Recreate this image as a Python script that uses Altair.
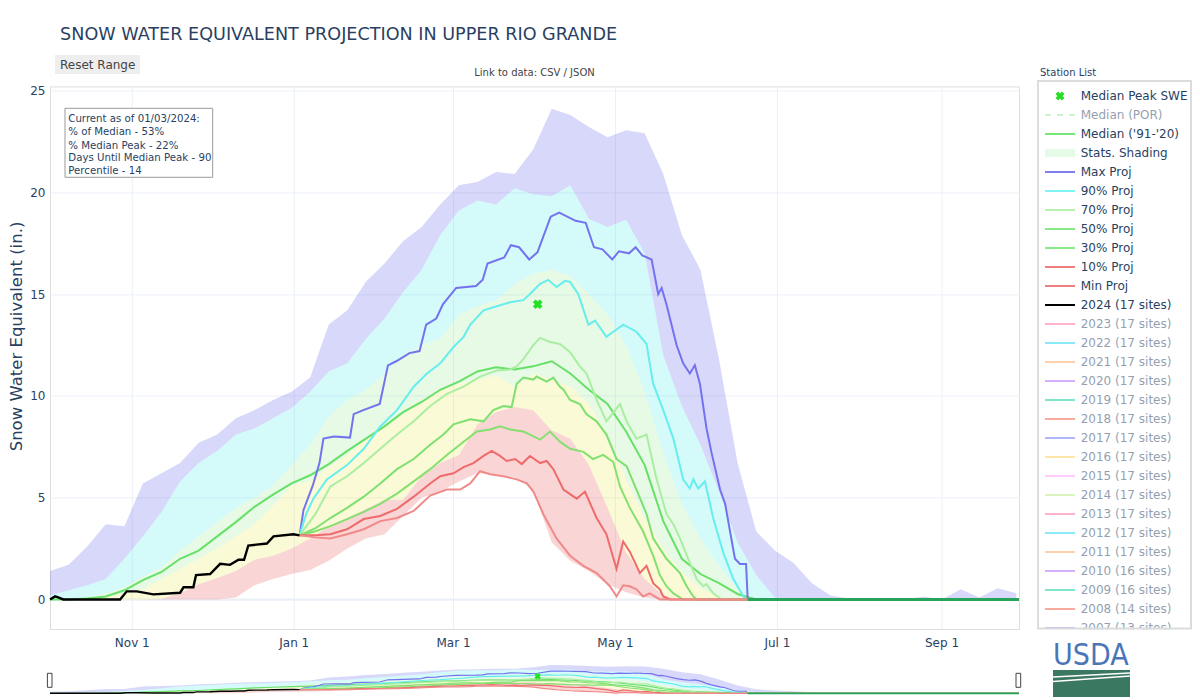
import altair as alt
import pandas as pd

FONT = "DejaVu Sans"
INK = "#2a3f5f"
GRID = "#ebf0f8"

W, H = 969, 542.6
PAD = {"left": 42, "top": 78.4, "right": 173, "bottom": 71}
Y_DOMAIN = [-1.45, 25.2]
MINI_RANGE = [608.6, 577.3]
BASE = pd.Timestamp("2023-10-01")

# ---------------- historical statistics (weekly, day 0 = Oct 1 2023) ----------------
BAND_DAYS = list(range(0, 365, 7))
STAT_MAX = [1.4, 1.7, 2.6, 3.7, 3.6, 5.7, 6.2, 6.7, 7.7, 8.1,
            8.9, 9.3, 9.8, 10.2, 10.9, 13.5, 14.2, 15.6, 16.5, 17.6,
            18.3, 19.4, 20.35, 20.5, 21.0, 20.9, 22.1, 24.1, 23.8, 23.2,
            22.7, 23.05, 22.9, 20.9, 17.9, 16.2, 11.8, 6.7, 3.35, 2.4,
            1.8, 0.8, 0.2, 0.05, 0.0, 0.0, 0.0, 0.15, 0.0, 0.5,
            0.1, 0.55, 0.3]
STAT_P90 = [0.2, 0.45, 0.7, 1.0, 2.0, 3.1, 4.3, 5.8, 6.7, 7.3,
            8.1, 8.4, 8.9, 9.4, 10.2, 11.2, 11.6, 12.8, 13.8, 15.1,
            16.2, 17.9, 19.1, 19.6, 19.4, 20.2, 19.9, 19.8, 20.35, 18.7,
            18.3, 18.65, 17.0, 12.0, 9.5, 7.6, 5.3, 2.8, 1.2, 0.1,
            0, 0, 0, 0, 0, 0, 0, 0, 0, 0,
            0, 0, 0]
STAT_P70 = [0.05, 0.05, 0.1, 0.3, 0.6, 1.1, 1.6, 2.4, 3.1, 3.8,
            4.5, 5.0, 5.6, 6.6, 7.6, 9.0, 9.8, 10.3, 11.1, 12.0,
            12.5, 12.8, 14.0, 14.4, 14.7, 15.5, 16.0, 16.2, 15.9, 15.0,
            14.0, 12.5, 10.2, 7.2, 4.7, 3.0, 1.65, 0.5, 0.0, 0.0,
            0, 0, 0, 0, 0, 0, 0, 0, 0, 0,
            0, 0, 0]
STAT_P30 = [0.0, 0.0, 0.05, 0.13, 0.3, 0.5, 1.0, 1.5, 2.0, 2.5,
            3.1, 3.7, 4.6, 5.6, 5.8, 6.5, 7.1, 7.9, 8.6, 9.1,
            9.7, 10.3, 10.6, 10.8, 11.0, 10.45, 11.1, 10.8, 10.45, 9.6,
            8.1, 5.9, 4.0, 2.5, 1.3, 0.55, 0.13, 0.0, 0.0, 0.0,
            0, 0, 0, 0, 0, 0, 0, 0, 0, 0,
            0, 0, 0]
STAT_P10 = [0, 0, 0, 0, 0, 0, 0.02, 0.3, 0.75, 1.05,
            1.4, 1.95, 2.15, 2.5, 3.0, 3.6, 4.0, 4.45, 4.9, 4.9,
            6.05, 6.7, 7.1, 8.6, 9.2, 9.45, 9.3, 8.3, 7.9, 6.6,
            4.5, 2.3, 1.0, 0.2, 0, 0, 0, 0, 0, 0,
            0, 0, 0, 0, 0, 0, 0, 0, 0, 0,
            0, 0, 0]
STAT_MIN = [0, 0, 0, 0, 0, 0, 0, 0, 0, 0,
            0.1, 0.7, 1.0, 1.25, 1.45, 1.9, 2.5, 3.0, 3.2, 4.1,
            5.0, 5.3, 5.8, 6.2, 6.15, 6.0, 5.4, 2.8, 1.9, 1.4,
            0.75, 0.35, 0.1, 0, 0, 0, 0, 0, 0, 0,
            0, 0, 0, 0, 0, 0, 0, 0, 0, 0,
            0, 0, 0]
MEDIAN_9120 = [0, 0, 0.05, 0.15, 0.45, 0.95, 1.35, 2.0, 2.4, 3.1,
               3.8, 4.55, 5.15, 5.7, 6.1, 6.65, 7.3, 7.9, 8.5, 9.2,
               9.7, 10.3, 10.7, 11.2, 11.4, 11.3, 11.45, 11.7, 11.1, 10.3,
               9.6, 8.25, 6.6, 3.85, 2.0, 1.25, 0.8, 0.27, 0, 0,
               0, 0, 0, 0, 0, 0, 0, 0, 0, 0,
               0, 0, 0]

# ---------------- projections from 01/03/2024 ----------------
PROJ_MAX_DAYS = [94, 95.5, 99, 101.5, 103, 107, 113, 114.4, 118, 124.2,
                 127.3, 130.4, 135.4, 139.2, 141.7, 145.5, 148, 153, 160.5, 163,
                 164.8, 171.1, 173.6, 176.7, 180.5, 183.6, 188.6, 191.8, 198, 201.8,
                 204.9, 208.1, 211.8, 214.3, 218.1, 220.6, 223.1, 226.6, 229.1, 230.4,
                 232.2, 236, 238.5, 241, 242.9, 244.8, 247.3, 249.2, 252.4, 254.3,
                 258, 259.9, 262.2, 262.8, 365]
PROJ_MAX = [3.15, 4.4, 5.6, 6.7, 7.9, 8.0, 7.95, 9.1, 9.3, 9.6,
            11.5, 11.7, 12.1, 12.2, 13.5, 13.8, 14.5, 15.3, 15.4, 15.7,
            16.5, 16.8, 17.4, 17.3, 16.7, 17.05, 18.8, 19.0, 18.6, 18.5,
            17.3, 17.2, 16.7, 17.1, 17.0, 17.3, 16.9, 16.7, 15.0, 15.3,
            14.5, 12.5, 11.6, 11.1, 11.5, 10.6, 8.4, 7.2, 5.4, 4.7,
            2.0, 1.74, 1.74, 0.0, 0.0]
PROJ_90_DAYS = [94, 96.5, 99.2, 104.3, 111.9, 118.2, 124.4, 130.7, 137, 142,
                147, 152, 155.8, 158.3, 163.3, 168.3, 173.3, 178.3, 180.8, 184.6,
                187.7, 190.8, 194, 195.9, 199, 202.8, 205.3, 209.6, 212.2, 215.9,
                220.9, 224.7, 227.2, 231, 234.8, 238.5, 241, 242.3, 244.2, 246.7,
                249.8, 253.6, 257.4, 261.2, 262.2, 365]
PROJ_90 = [3.15, 4.2, 4.95, 5.9, 6.6, 7.4, 8.5, 9.3, 10.45, 11.1,
           11.6, 12.4, 12.9, 13.5, 14.2, 14.4, 14.6, 14.7, 15.0, 15.5,
           15.7, 15.35, 15.65, 15.6, 15.0, 13.5, 13.7, 12.9, 13.15, 13.5,
           13.15, 12.55, 10.6, 9.3, 7.9, 5.9, 5.45, 5.9, 5.45, 5.8,
           4.0, 2.3, 1.0, 0.15, 0.0, 0.0]
PROJ_70_DAYS = [94, 100, 105.6, 111.9, 118.2, 124.4, 130.7, 137, 143.2, 149.5,
                155.8, 162, 168.3, 173.3, 175.8, 178.3, 182.1, 184.6, 188.3, 192.1,
                195.9, 199.6, 202.1, 205.9, 209.6, 214.7, 217.2, 220.9, 224.7, 228.5,
                232.2, 234.8, 237.3, 241, 243.6, 246.1, 247.3, 249.8, 252.4, 253.6, 365]
PROJ_70 = [3.15, 4.2, 5.55, 6.05, 6.7, 7.4, 8.1, 8.75, 9.5, 10.1,
           10.45, 10.95, 11.25, 11.3, 11.45, 11.8, 12.5, 12.85, 12.65, 12.55,
           12.15, 11.45, 11.1, 9.8, 8.75, 9.6, 8.75, 7.9, 8.1, 5.9,
           4.2, 3.7, 3.0, 1.8, 1.0, 0.65, 0.75, 0.3, 0.05, 0.0, 0.0]
PROJ_50_DAYS = [94, 100, 105.6, 111.9, 118.2, 124.4, 130.7, 137, 143.2, 148.2,
                152, 158.3, 163.3, 167, 170.8, 173.9, 175.8, 178.3, 182.1, 183.3,
                187.1, 189.6, 192.1, 193.4, 195.9, 199.6, 202.1, 205.9, 209.6, 213.4,
                217.2, 220.9, 224.7, 227.2, 232.2, 237.3, 239.8, 242.3, 243.6, 365]
PROJ_50 = [3.15, 3.5, 4.0, 4.5, 5.05, 5.7, 6.4, 6.9, 7.6, 8.1,
           8.6, 8.85, 8.75, 9.3, 9.5, 9.45, 10.6, 10.9, 10.8, 10.95,
           10.7, 10.9, 10.45, 10.3, 9.8, 9.6, 9.1, 8.75, 8.1, 6.9,
           6.55, 5.4, 4.2, 3.0, 2.0, 1.3, 0.65, 0.15, 0.0, 0.0]
PROJ_30_DAYS = [94, 100, 105.6, 111.9, 118.2, 124.4, 130.7, 137, 143.2, 149.5,
                155.8, 160.8, 165.8, 169.5, 173.3, 178.3, 180.8, 184.6, 188.3, 192.1,
                195.9, 200.9, 204.6, 208.4, 212.2, 214.7, 218.4, 223.4, 227.2, 229.7,
                232.2, 234.8, 238.5, 365]
PROJ_30 = [3.15, 3.35, 3.6, 3.95, 4.3, 4.7, 5.2, 5.8, 6.4, 7.1,
           7.75, 8.25, 8.35, 8.5, 8.35, 8.25, 8.1, 7.85, 8.25, 7.75,
           7.4, 7.25, 6.9, 7.1, 6.75, 5.55, 4.5, 3.35, 2.15, 1.2,
           0.65, 0.3, 0.0, 0.0]
PROJ_10_DAYS = [94, 100, 105.6, 111.9, 118.2, 124.4, 130.7, 137, 143.2, 147,
                152, 155.8, 159.5, 163.3, 166.4, 169.5, 172, 175.2, 177.7, 180.8,
                184.6, 187.1, 189.6, 193.4, 198.4, 201.5, 205.9, 209.6, 213.4, 215.9,
                218.4, 222.2, 224.7, 227.2, 229.7, 231, 233.5, 365]
PROJ_10 = [3.15, 3.15, 3.2, 3.45, 3.95, 4.1, 4.45, 5.05, 5.7, 6.05,
           6.2, 6.5, 6.7, 7.05, 7.3, 7.05, 6.8, 6.9, 6.65, 7.05,
           6.7, 6.8, 6.4, 5.4, 4.95, 5.3, 4.0, 3.2, 1.5, 2.85,
           2.35, 1.3, 1.65, 0.8, 0.5, 0.15, 0.0, 0.0]
PROJ_MIN_DAYS = [94, 100, 105.6, 111.9, 118.2, 124.4, 130.7, 137, 143.2, 149.5,
                 154.5, 158.3, 162, 165.8, 170.8, 175.8, 179.6, 182.1, 185.8, 190.8,
                 195.9, 200.9, 205.9, 210.9, 213.4, 215.9, 218.4, 220.9, 223.4, 225.9,
                 229.7, 365]
PROJ_MIN = [3.15, 3.05, 3.0, 3.2, 3.45, 3.85, 4.0, 4.35, 5.1, 5.4,
            5.4, 5.7, 6.3, 6.15, 6.05, 5.9, 5.7, 5.3, 4.2, 3.0,
            2.15, 1.65, 1.3, 0.65, 0.15, 0.7, 0.65, 0.5, 0.15, 0.3,
            0.0, 0.0]
ZERO_TAIL_DAYS = [262.8, 365]
ZERO_TAIL = [0.0, 0.0]

# ---------------- current water year ----------------
WY2024_DAYS = [0, 1.9, 3.1, 5, 26.4, 28.9, 32.7, 38.9, 49, 50.3,
               54, 55, 60.3, 64.1, 67.8, 71, 73.1, 74.7, 81.7, 84.2,
               91.7, 94]
WY2024 = [0, 0.15, 0.1, 0, 0, 0.4, 0.4, 0.25, 0.33, 0.6,
          0.6, 1.2, 1.25, 1.75, 1.7, 1.95, 1.95, 2.65, 2.75, 3.1,
          3.2, 3.15]
PEAK_DAY = [183.7]
PEAK_SWE = [14.5]

X_TICK_DATES = ["2023-11-01", "2024-01-01", "2024-03-01", "2024-05-01", "2024-07-01", "2024-09-01"]
X_TICK_LABELS = ["Nov 1", "Jan 1", "Mar 1", "May 1", "Jul 1", "Sep 1"]

INFO_LINES = ["Current as of 01/03/2024:", "% of Median - 53%", "% Median Peak - 22%",
              "Days Until Median Peak - 90", "Percentile - 14"]

LEGEND_LABELS = ["Median Peak SWE", "Median (POR)", "Median ('91-'20)", "Stats. Shading",
                 "Max Proj", "90% Proj", "70% Proj", "50% Proj", "30% Proj", "10% Proj",
                 "Min Proj", "2024 (17 sites)", "2023 (17 sites)", "2022 (17 sites)",
                 "2021 (17 sites)", "2020 (17 sites)", "2019 (17 sites)", "2018 (17 sites)",
                 "2017 (17 sites)", "2016 (17 sites)", "2015 (17 sites)", "2014 (17 sites)",
                 "2013 (17 sites)", "2012 (17 sites)", "2011 (17 sites)", "2010 (16 sites)",
                 "2009 (16 sites)", "2008 (14 sites)", "2007 (13 sites)"]
LEGEND_COLORS = ["#22e022", "#9be89b", "#77e877", "#e6fbe6", "#7f7ff0", "#7ff4f4", "#b8f0b0",
                 "#88e888", "#88e888", "#f08080", "#f08080", "#000000", "#FF6692", "#19d3f3",
                 "#FFA15A", "#ab63fa", "#00cc96", "#EF553B", "#636efa", "#FECB52", "#FF97FF",
                 "#B6E880", "#FF6692", "#19d3f3", "#FFA15A", "#ab63fa", "#00cc96", "#EF553B",
                 "#636efa"]
LEGEND_KIND = ["marker", "dash", "line", "fill"] + ["line"] * 25
LEGEND_ACTIVE = [1, 0, 1, 1, 1, 1, 1, 1, 1, 1, 1, 1] + [0] * 17


def to_dates(days):
    return [(BASE + pd.to_timedelta(float(d), unit="D")).strftime("%Y-%m-%dT%H:%M:%S") for d in days]


XS = alt.Scale(domain=[alt.DateTime(year=2023, month=10, date=1),
                       alt.DateTime(year=2024, month=9, date=30)])
YAXIS = alt.Axis(values=[0, 5, 10, 15, 20, 25], title=None, domain=False, ticks=False,
                 grid=True, gridColor=GRID, gridWidth=1, labelFont=FONT, labelFontSize=12,
                 labelColor=INK, labelPadding=5)
YS_MAIN = alt.Scale(domain=Y_DOMAIN, nice=False, zero=False)
YS_MINI = alt.Scale(domain=Y_DOMAIN, range=MINI_RANGE, nice=False, zero=False)

BANDS = [(STAT_MIN, STAT_P10, "#e62d2d"), (STAT_P10, STAT_P30, "#e6e632"),
         (STAT_P30, STAT_P70, "#82e682"), (STAT_P70, STAT_P90, "#2de6e6"),
         (STAT_P90, STAT_MAX, "#3c3ce6")]

LINES = [(BAND_DAYS, MEDIAN_9120, "#66e066", 2.0, 1.0),
         (PROJ_MAX_DAYS, PROJ_MAX, "#7373ee", 2.0, 1.0),
         (PROJ_90_DAYS, PROJ_90, "#66eeee", 2.0, 1.0),
         (PROJ_70_DAYS, PROJ_70, "#aaeea2", 2.0, 1.0),
         (PROJ_50_DAYS, PROJ_50, "#7ee070", 2.0, 1.0),
         (PROJ_30_DAYS, PROJ_30, "#86e070", 2.0, 1.0),
         (PROJ_10_DAYS, PROJ_10, "#ee6b6b", 2.0, 1.0),
         (PROJ_MIN_DAYS, PROJ_MIN, "#f08a8a", 2.0, 1.0),
         (ZERO_TAIL_DAYS, ZERO_TAIL, "#27a35c", 3.0, 1.0),
         (WY2024_DAYS, WY2024, "#000000", 2.4, 1.0)]


def data_layers(ys, mini):
    xenc = alt.X("date:T", scale=XS, axis=None)
    yax = None if mini else YAXIS
    layers = []
    if not mini:
        ticks = pd.DataFrame({"date": [d + "T00:00:00" for d in X_TICK_DATES],
                              "label": X_TICK_LABELS})
        layers.append(alt.Chart(ticks).mark_rule(color=GRID, strokeWidth=1).encode(x=xenc))
        layers.append(alt.Chart(ticks).mark_text(baseline="top", fontSize=12, font=FONT,
                                                 color=INK).encode(
            x=xenc, y=alt.value(H + 9), text="label:N"))
        layers.append(alt.Chart(pd.DataFrame({"v": [0]})).mark_rule(color=GRID, strokeWidth=2)
                      .encode(y=alt.Y("v:Q", scale=ys, axis=yax)))
    bdates = to_dates(BAND_DAYS)
    for lo, hi, col in BANDS:
        df = pd.DataFrame({"date": bdates, "lo": lo, "hi": hi})
        layers.append(alt.Chart(df).mark_area(color=col, opacity=0.2, interpolate="linear")
                      .encode(x=xenc, y=alt.Y("lo:Q", scale=ys, axis=yax, stack=None), y2="hi:Q"))
    for days, vals, col, w, op in LINES:
        df = pd.DataFrame({"date": to_dates(days), "v": vals})
        layers.append(alt.Chart(df).mark_line(color=col, strokeWidth=(w * 0.6 if mini else w),
                                              opacity=op)
                      .encode(x=xenc, y=alt.Y("v:Q", scale=ys, axis=yax)))
    pk = pd.DataFrame({"date": to_dates(PEAK_DAY), "v": PEAK_SWE})
    layers.append(alt.Chart(pk).mark_point(shape="cross", angle=45, filled=True,
                                           size=(40 if mini else 95), color="#22e022", opacity=1)
                  .encode(x=xenc, y=alt.Y("v:Q", scale=ys, axis=yax)))
    return alt.layer(*layers)


def txt(s, x, y, size, color=INK, align="left", baseline="middle", angle=0, font=FONT,
        weight="normal"):
    props = dict(align=align, baseline=baseline, fontSize=size, font=font, color=color,
                 fontWeight=weight)
    if angle:
        props["angle"] = angle
    return alt.Chart(pd.DataFrame({"s": [s]})).mark_text(**props).encode(
        x=alt.value(x), y=alt.value(y), text="s:N")


def box(x1, y1, x2, y2, fill, stroke=None, sw=1.0, fill_opacity=1.0):
    props = dict(fill=fill, fillOpacity=fill_opacity)
    if stroke:
        props.update(stroke=stroke, strokeWidth=sw)
    return alt.Chart(pd.DataFrame({"k": [0]})).mark_rect(**props).encode(
        x=alt.value(x1), x2=alt.value(x2), y=alt.value(y1), y2=alt.value(y2))


def seg(x1, y1, x2, y2, color, sw):
    return alt.Chart(pd.DataFrame({"k": [0]})).mark_rule(color=color, strokeWidth=sw).encode(
        x=alt.value(x1), x2=alt.value(x2), y=alt.value(y1), y2=alt.value(y2))


# legend table
leg = pd.DataFrame({"label": LEGEND_LABELS, "color": LEGEND_COLORS, "kind": LEGEND_KIND,
                    "op": [1.0 if a else 0.5 for a in LEGEND_ACTIVE]})
leg["py"] = [9.6 + 19.0 * i for i in range(len(leg))]
leg["py1"] = leg["py"] - 4
leg["py2"] = leg["py"] + 4
LX1, LX2, LTX = 995, 1025, 1030.7
leg_lines = alt.Chart(leg[leg.kind == "line"]).mark_rule(strokeWidth=2).encode(
    x=alt.value(LX1), x2=alt.value(LX2), y=alt.Y("py:Q", scale=None),
    color=alt.Color("color:N", scale=None), opacity=alt.Opacity("op:Q", scale=None))
leg_dash = alt.Chart(leg[leg.kind == "dash"]).mark_rule(strokeWidth=2, strokeDash=[6, 6]).encode(
    x=alt.value(LX1), x2=alt.value(LX2), y=alt.Y("py:Q", scale=None),
    color=alt.Color("color:N", scale=None), opacity=alt.Opacity("op:Q", scale=None))
leg_fill = alt.Chart(leg[leg.kind == "fill"]).mark_rect().encode(
    x=alt.value(LX1), x2=alt.value(LX2), y=alt.Y("py1:Q", scale=None),
    y2=alt.Y2("py2:Q"), color=alt.Color("color:N", scale=None))
leg_mark = alt.Chart(leg[leg.kind == "marker"]).mark_point(shape="cross", angle=45, filled=True,
                                                           size=80, opacity=1).encode(
    x=alt.value((LX1 + LX2) / 2), y=alt.Y("py:Q", scale=None),
    color=alt.Color("color:N", scale=None))
leg_text = alt.Chart(leg).mark_text(align="left", baseline="middle", fontSize=12, font=FONT,
                                    color=INK).encode(
    x=alt.value(LTX), y=alt.Y("py:Q", scale=None), text="label:N",
    opacity=alt.Opacity("op:Q", scale=None))

info = pd.DataFrame({"s": INFO_LINES, "py": [32.6, 45.9, 59.3, 71.9, 84.3]})
info_text = alt.Chart(info).mark_text(align="left", baseline="middle", fontSize=10.2, font=FONT,
                                      color=INK).encode(
    x=alt.value(18.3), y=alt.Y("py:Q", scale=None), text="s:N")

decos = [
    txt("SNOW WATER EQUIVALENT PROJECTION IN UPPER RIO GRANDE", 10.1, -46.4, 17.6,
        baseline="alphabetic"),
    box(5, -31.4, 90, -12.4, "#eeeeee"),
    txt("Reset Range", 10, -21.9, 12, color="#444444"),
    txt("Link to data: CSV / JSON", 484.5, -13.4, 10, color="#444444", align="center"),
    box(15, 21.9, 162.7, 90.9, "white", stroke="#9a9a9a", sw=1),
    info_text,
    txt("Snow Water Equivalent (in.)", -41.3, 250.1, 16.5, angle=270, align="center",
        baseline="top"),
    txt("Station List", 990, -13.7, 10),
    leg_fill, leg_dash, leg_lines, leg_mark, leg_text,
    box(984, 543.2, 1142, 553, "white"),
    box(988, -5.4, 1141, 542.2, "white", stroke="#dcdcdc", sw=2, fill_opacity=0),
    box(-2.6, 586.9, 2, 600.9, "white", stroke="#444444", sw=1),
    box(966, 586.9, 970.7, 600.9, "white", stroke="#444444", sw=1),
    txt("USDA", 1003, 578.6, 30, color="#4a76b8", baseline="alphabetic",
        font="DejaVu Sans Condensed"),
    box(1003, 583.6, 1080, 610.6, "#3b7862"),
    seg(1003, 590.5, 1080, 586.5, "white", 1.5),
    seg(1003, 595, 1080, 589.5, "white", 1.5),
]

chart = alt.layer(data_layers(YS_MAIN, False), data_layers(YS_MINI, True), *decos).resolve_scale(
    y="independent"
).properties(
    width=W, height=H, autosize=alt.AutoSizeParams(type="none"), padding=PAD
).configure_view(strokeWidth=0).configure(background="white")

chart.save("out.html", embed_options={"renderer": "svg", "actions": False})
